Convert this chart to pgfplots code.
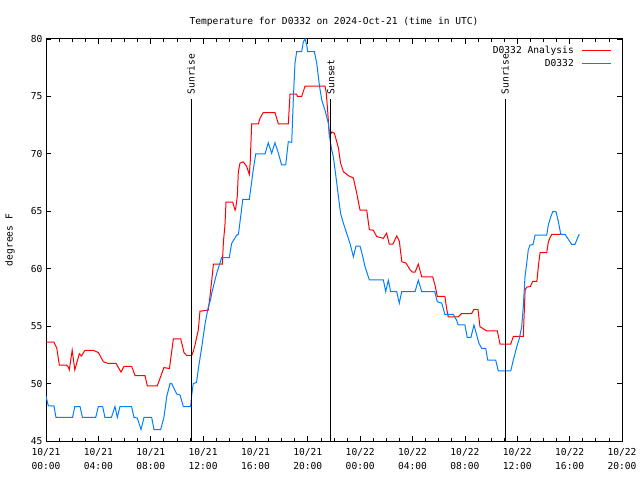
\documentclass[border=0pt]{standalone}
\usepackage{fontspec}
\setmainfont{DejaVu Sans Mono}
\usepackage{pgfplots}
\pgfplotsset{compat=1.18}
\definecolor{anared}{RGB}{255,0,0}
\definecolor{obsblue}{RGB}{0,128,255}
\newcommand\gp{\fontsize{9.6bp}{14bp}\selectfont}
\begin{document}
\begin{tikzpicture}
\path[use as bounding box] (0,0) rectangle (640bp,480bp);
\begin{axis}[
  at={(46bp,39bp)}, anchor=south west,
  width=576bp, height=402bp, scale only axis,
  xmin=0, xmax=44, ymin=45, ymax=80,
  xtick={0,4,...,44},
  xticklabels={{10/21\\00:00},{10/21\\04:00},{10/21\\08:00},{10/21\\12:00},{10/21\\16:00},{10/21\\20:00},
               {10/22\\00:00},{10/22\\04:00},{10/22\\08:00},{10/22\\12:00},{10/22\\16:00},{10/22\\20:00}},
  xticklabel style={align=center, font=\gp, yshift=-4bp},
  ytick={45,50,...,80},
  yticklabel style={font=\gp},
  /pgf/number format/assume math mode=true,
  minor x tick num=3,
  major tick length=5bp, minor tick length=3bp,
  tick style={black, line width=0.8bp},
  axis line style={line width=1bp},
  title={Temperature for D0332 on 2024-Oct-21 (time in UTC)},
  title style={font=\gp, at={(0.5,1)}, anchor=center, yshift=11bp},
  ylabel={degrees F},
  ylabel style={font=\gp, at={(axis description cs:0,0.5)}, anchor=center, yshift=36bp},
  legend plot pos=right,
  legend cell align=right,
  legend image code/.code={\draw[#1] (0bp,0bp) -- (29bp,0bp);},
  legend style={at={(axis description cs:1,1)}, anchor=north east, xshift=-10bp, yshift=-5bp,
    draw=none, fill=none, font=\gp, inner sep=0pt, row sep=0bp,
    nodes={inner sep=2bp}},
]
\addplot[anared, line width=1bp] coordinates {
(0,53.6) (0.6,53.6) (0.82,53.1) (1.02,51.6) (1.58,51.6) (1.72,51.4) (1.78,51.2)
(2.0,52.9) (2.2,51.2) (2.55,52.6) (2.7,52.4) (2.98,52.9) (3.6,52.9) (4.0,52.7)
(4.38,51.9) (4.75,51.75) (5.35,51.75) (5.73,51.0) (5.96,51.5) (6.54,51.5) (6.8,50.7)
(7.56,50.7) (7.74,49.8) (8.5,49.8) (9.01,51.4) (9.43,51.3) (9.73,53.9) (10.29,53.9)
(10.54,52.7) (10.74,52.45) (11.13,52.45) (11.25,52.8) (11.39,53.4) (11.64,54.7)
(11.76,56.3) (12.4,56.4) (12.53,57.6) (12.66,59.0) (12.79,60.4) (13.47,60.4)
(13.55,62.3) (13.67,63.8) (13.75,65.8) (14.26,65.8) (14.44,65.1) (14.5,65.3)
(14.62,66.4) (14.69,68.4) (14.82,69.2) (15.07,69.3) (15.33,68.9) (15.53,68.2)
(15.6,69.3) (15.71,72.6) (16.22,72.6) (16.35,73.1) (16.6,73.6) (17.49,73.6)
(17.62,73.1) (17.75,72.6) (18.51,72.6) (18.64,75.2) (19.15,75.2) (19.2,75.0)
(19.53,75.0) (19.79,75.9) (21.31,75.9) (21.4,75.4) (21.5,74.0) (21.65,71.5)
(21.83,71.9) (22.03,71.8) (22.34,70.5) (22.5,69.2) (22.72,68.45) (23.1,68.1)
(23.48,67.9) (23.73,66.6) (23.99,65.1) (24.5,65.1) (24.7,63.4) (25.0,63.35)
(25.26,62.8) (25.77,62.65) (26.02,63.1) (26.22,62.15) (26.5,62.15) (26.79,62.85)
(26.99,62.4) (27.18,60.6) (27.5,60.5) (27.81,59.9) (28.0,59.7) (28.19,59.7)
(28.44,60.4) (28.7,59.3) (29.54,59.3) (29.71,58.6) (29.89,57.6) (30.47,57.6)
(30.6,56.55) (30.73,55.8) (31.49,55.8) (31.75,56.1) (32.51,56.1) (32.69,56.45)
(33.0,56.45) (33.15,54.95) (33.36,54.8) (33.67,54.58) (34.48,54.58) (34.68,53.44)
(35.5,53.44) (35.7,54.1) (36.46,54.1) (36.6,58.15) (36.72,58.4) (37.0,58.45)
(37.18,58.9) (37.5,58.9) (37.61,60.2) (37.74,61.4) (38.25,61.4) (38.37,62.3)
(38.5,62.7) (38.63,63.0) (39.47,63.0)
};
\addlegendentry{D0332 Analysis\kern6bp}
\addplot[obsblue, line width=1bp] coordinates {
(0,48.9) (0.18,48.05) (0.61,48.05) (0.76,47.06) (2.03,47.06) (2.2,48.0) (2.6,48.0)
(2.78,47.06) (3.8,47.06) (4.0,48.0) (4.33,48.0) (4.5,47.06) (5.0,47.06) (5.27,48.0)
(5.45,47.06) (5.65,48.0) (6.54,48.0) (6.72,47.06) (6.97,47.0) (7.26,46.0) (7.49,47.06)
(8.07,47.06) (8.25,46.0) (8.76,46.0) (9.01,47.06) (9.22,48.86) (9.47,50.0) (9.6,50.0)
(9.98,49.1) (10.24,49.0) (10.49,48.0) (11.05,48.0) (11.13,49.0) (11.25,50.0)
(11.5,50.1) (11.64,51.3) (11.9,53.2) (12.15,55.2) (12.4,56.7) (12.57,57.3)
(12.66,57.86) (13.04,59.6) (13.42,60.96) (14.0,60.96) (14.18,62.2) (14.57,62.93)
(14.7,63.0) (14.9,64.8) (15.03,66.04) (15.53,66.04) (15.66,67.14) (15.83,68.6)
(16.02,69.99) (16.73,69.99) (16.98,70.97) (17.24,70.05) (17.49,70.97) (17.75,70.05)
(18.0,69.03) (18.31,69.03) (18.51,71.06) (18.77,71.0) (18.9,74.97) (19.02,77.9)
(19.15,78.9) (19.53,78.9) (19.66,79.76) (19.79,80.0) (19.91,79.5) (19.99,78.9)
(20.5,78.9) (20.68,77.9) (20.88,76.0) (21.06,74.7) (21.31,73.8) (21.57,72.66)
(21.7,71.2) (21.83,70.3) (21.95,69.75) (22.15,68.0) (22.34,66.27) (22.5,64.82)
(22.72,63.95) (22.97,63.08) (23.22,62.2) (23.48,61.04) (23.68,61.97) (23.99,61.97)
(24.2,61.04) (24.37,60.17) (24.7,59.02) (25.77,59.02) (25.95,58.0) (26.15,59.0)
(26.33,58.0) (26.79,58.0) (26.99,57.0) (27.17,58.0) (28.19,58.0) (28.44,59.0)
(28.7,58.0) (29.7,58.0) (29.89,57.13) (30.23,57.0) (30.47,56.03) (31.1,56.03)
(31.36,55.53) (31.49,55.1) (32.0,55.1) (32.18,54.02) (32.46,54.02) (32.69,55.1)
(32.9,54.23) (33.07,53.5) (33.28,53.07) (33.59,53.07) (33.74,52.05) (34.35,52.05)
(34.55,51.1) (35.5,51.1) (35.7,52.05) (35.96,53.2) (36.16,53.94) (36.34,54.95)
(36.46,56.7) (36.59,59.3) (36.72,60.47) (36.84,61.63) (36.97,62.06) (37.2,62.1)
(37.36,62.93) (38.25,62.93) (38.37,63.8) (38.56,64.53) (38.71,64.96) (38.96,64.96)
(39.14,64.1) (39.32,63.0) (39.65,63.0) (39.9,62.56) (40.16,62.12) (40.41,62.12)
(40.59,62.64) (40.74,63.0)
};
\addlegendentry{D0332\kern6bp}
% sunrise / sunset markers
\addplot[black, line width=1bp, forget plot] coordinates {(11.08,45) (11.08,74.8)}
  node[pos=1, rotate=90, anchor=west, font=\gp, inner sep=4bp] {Sunrise};
\addplot[black, line width=1bp, forget plot] coordinates {(21.77,45) (21.77,74.8)}
  node[pos=1, rotate=90, anchor=west, font=\gp, inner sep=4bp] {Sunset};
\addplot[black, line width=1bp, forget plot] coordinates {(35.07,45) (35.07,74.8)}
  node[pos=1, rotate=90, anchor=west, font=\gp, inner sep=4bp] {Sunrise};
\end{axis}
\end{tikzpicture}
\end{document}
